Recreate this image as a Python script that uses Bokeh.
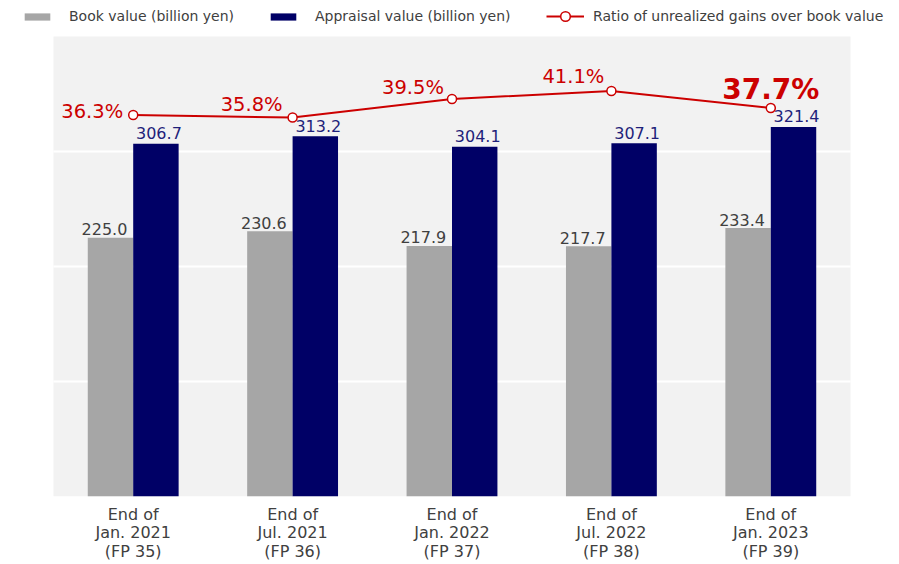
import numpy as np
from bokeh.plotting import figure
from bokeh.models import (Range1d, FixedTicker, ColumnDataSource, Legend, LegendItem,
                          BoxAnnotation)
from bokeh.transform import dodge
from bokeh.embed import file_html
from bokeh.resources import INLINE

# ---------------- data ----------------
periods = ["End of\nJan. 2021\n(FP 35)", "End of\nJul. 2021\n(FP 36)",
           "End of\nJan. 2022\n(FP 37)", "End of\nJul. 2022\n(FP 38)",
           "End of\nJan. 2023\n(FP 39)"]
book_value = [225.0, 230.6, 217.9, 217.7, 233.4]
appraisal_value = [306.7, 313.2, 304.1, 307.1, 321.4]
unrealized_ratio = [36.3, 35.8, 39.5, 41.1, 37.7]
grid_ticks = [100, 200, 300]
value_axis_max = 400

# ---------------- styling ----------------
GRAY = "#a6a6a6"
NAVY = "#000066"
RED = "#cc0000"
FONT = "DejaVu Sans"
BAR_W = 0.285

# ratio label placement (pixel offsets of text centre relative to marker)
ratio_dx = [-10, -10, -8, -7, 0]
ratio_dy = [-4, -13, -12, -15, -19]
ratio_align = ["right", "right", "right", "right", "center"]
ratio_size = ["19.5px", "19.5px", "19.5px", "19.5px", "28px"]
ratio_style = ["normal", "normal", "normal", "normal", "bold"]

# page geometry (pixels)
W, H = 899, 564
PLOT_L, PLOT_R, PLOT_T, PLOT_B = 53, 850, 36, 496

n = len(periods)
xs = [i + 0.5 for i in range(n)]

src = ColumnDataSource(dict(
    x=xs,
    book=book_value,
    appr=appraisal_value,
    ratio=unrealized_ratio,
    book_txt=[f"{v:.1f}" for v in book_value],
    appr_txt=[f"{v:.1f}" for v in appraisal_value],
    ratio_txt=[f"{v:.1f}%" for v in unrealized_ratio],
    dx=ratio_dx, dy=ratio_dy, align=ratio_align,
    size=ratio_size, style=ratio_style,
))

# frame covers the whole width and reaches the top so the legend fits inside it
px_per_cat = (PLOT_R - PLOT_L) / n
x0 = -PLOT_L / px_per_cat
x1 = n + (W - PLOT_R) / px_per_cat
px_per_val = (PLOT_B - PLOT_T) / value_axis_max
y_top = PLOT_B / px_per_val
ratio_px = 5.0
ratio_bottom = -40.0
ratio_top = ratio_bottom + PLOT_B / ratio_px

p = figure(width=W, height=H, x_range=Range1d(x0, x1),
           y_range=Range1d(0, y_top), output_backend="svg",
           toolbar_location=None, y_axis_location=None,
           min_border_left=0, min_border_right=0,
           min_border_top=0, min_border_bottom=H - PLOT_B)
p.extra_y_ranges = {"ratio": Range1d(ratio_bottom, ratio_top)}

p.background_fill_color = "white"
p.border_fill_color = "white"
p.outline_line_color = None
p.grid.visible = False

# plot-area background and grid lines
p.add_layout(BoxAnnotation(left=0, right=n, bottom=0, top=value_axis_max,
                           fill_color="#f2f2f2", fill_alpha=1, line_color=None,
                           level="image"))
p.segment(x0=[0] * len(grid_ticks), x1=[n] * len(grid_ticks), y0=grid_ticks, y1=grid_ticks,
          line_color="white", line_width=2, level="underlay")

p.xaxis.ticker = FixedTicker(ticks=xs)
p.xaxis.major_label_overrides = {x: lab for x, lab in zip(xs, periods)}
p.xaxis.axis_line_color = None
p.xaxis.major_tick_line_color = None
p.xaxis.minor_tick_line_color = None
p.xaxis.major_tick_in = 0
p.xaxis.major_tick_out = 0
p.xaxis.major_label_standoff = 8
p.xaxis.major_label_text_font = FONT
p.xaxis.major_label_text_font_size = "16px"
p.xaxis.major_label_text_color = "#404040"
p.xaxis.major_label_text_line_height = 0.98

# bars
r_book = p.vbar(x=dodge("x", -BAR_W / 2, range=p.x_range), top="book", width=BAR_W,
                source=src, fill_color=GRAY, line_color=None)
r_appr = p.vbar(x=dodge("x", BAR_W / 2, range=p.x_range), top="appr", width=BAR_W,
                source=src, fill_color=NAVY, line_color=None)

# bar labels
p.text(x=dodge("x", -BAR_W / 2, range=p.x_range), y="book", text="book_txt", source=src,
       x_offset=-6, y_offset=-8.5, text_align="center", text_baseline="middle",
       text_font={"value": FONT}, text_font_size="16px", text_color="#404040")
p.text(x=dodge("x", BAR_W / 2, range=p.x_range), y="appr", text="appr_txt", source=src,
       x_offset=3, y_offset=-10.5, text_align="center", text_baseline="middle",
       text_font={"value": FONT}, text_font_size="16px", text_color="#1f1f7a")

# ratio line
r_line = p.line(x="x", y="ratio", source=src, y_range_name="ratio",
                line_color=RED, line_width=2)
r_pts = p.scatter(x="x", y="ratio", source=src, y_range_name="ratio", size=9,
                  fill_color="white", line_color=RED, line_width=1.5)
p.text(x="x", y="ratio", text="ratio_txt", source=src, y_range_name="ratio",
       x_offset="dx", y_offset="dy", text_align="align", text_baseline="middle",
       text_font={"value": FONT}, text_font_size="size", text_font_style="style",
       text_color=RED)

legend_common = dict(orientation="horizontal", padding=0, margin=0,
                     border_line_color=None, background_fill_alpha=0,
                     label_text_font=FONT, label_text_font_size="14px",
                     label_text_color="#404040", label_height=16)

legend_bars = Legend(items=[
    LegendItem(label="Book value (billion yen)", renderers=[r_book]),
    LegendItem(label="Appraisal value (billion yen)", renderers=[r_appr]),
], location=(21, PLOT_B - 24), glyph_width=32, glyph_height=9,
    label_standoff=16, spacing=33, **legend_common)
p.add_layout(legend_bars)

legend_line = Legend(items=[
    LegendItem(label="Ratio of unrealized gains over book value", renderers=[r_line, r_pts]),
], location=(546, PLOT_B - 28), glyph_width=38, glyph_height=24,
    label_standoff=9, **legend_common)
p.add_layout(legend_line)

open("out.html", "w").write(file_html(p, INLINE))
